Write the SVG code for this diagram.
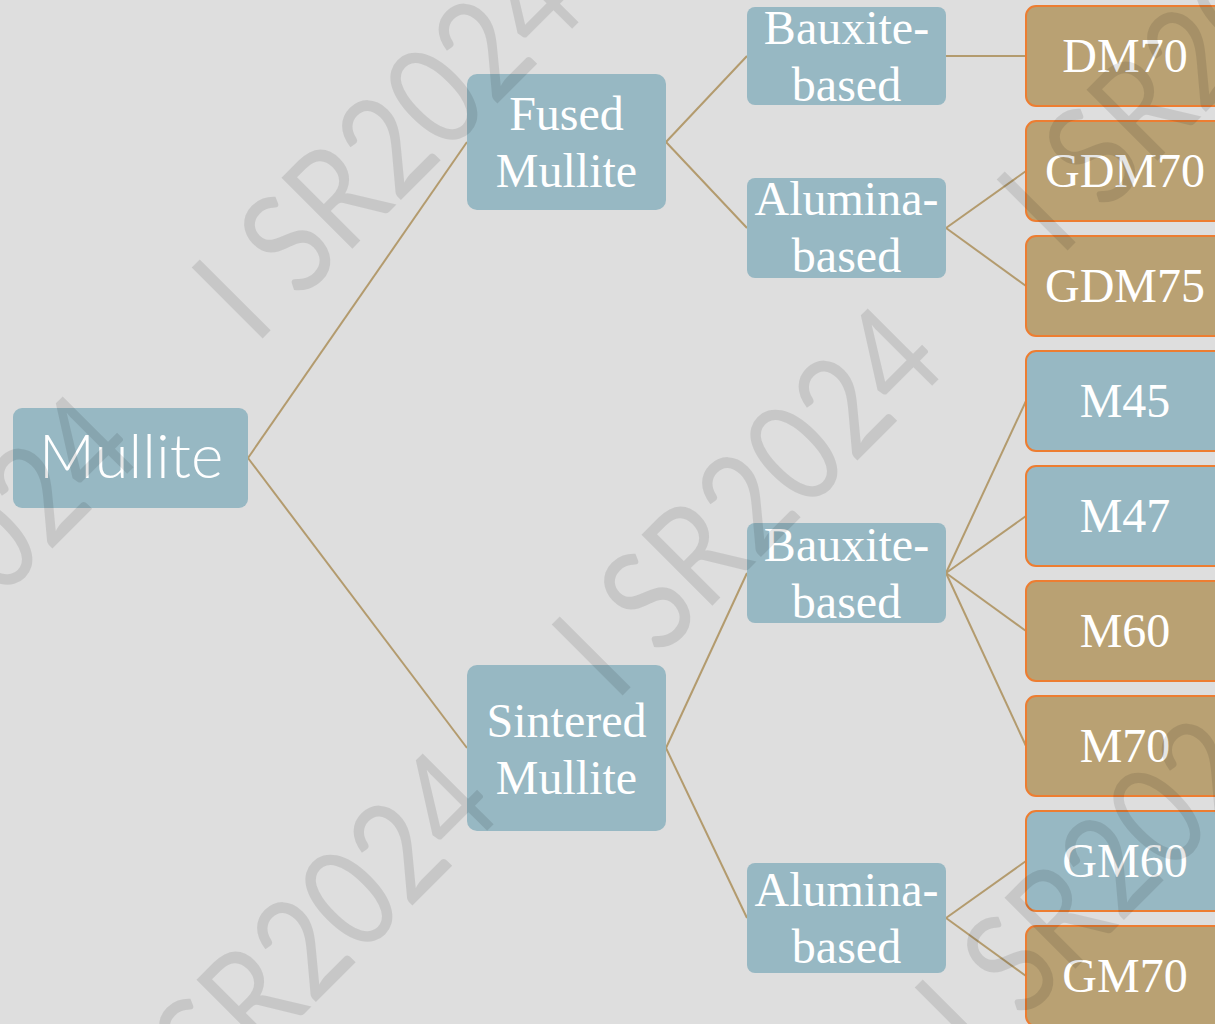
<svg xmlns="http://www.w3.org/2000/svg" xmlns:xlink="http://www.w3.org/1999/xlink" width="1215" height="1024" viewBox="0 0 1215 1024">
  <style>
    .blue { fill: #97b8c3; }
    .tan { fill: #b9a173; }
    .leaf { stroke: #ed7d31; stroke-width: 2; }
    .label { fill: #ffffff; font-family: "Liberation Serif", "Times New Roman", serif; font-size: 48px; text-anchor: middle; }
    .leaf-label { fill: #ffffff; font-family: "Liberation Serif", "Times New Roman", serif; font-size: 48px; text-anchor: middle; }
    .root-label { fill: #ffffff; font-family: Lato, "Open Sans", sans-serif; font-weight: 300; font-size: 62px; text-anchor: middle; }
    .conn line { stroke: #b39b6e; stroke-width: 2; fill: none; }
    .wm { fill: #000000; fill-opacity: 0.1; font-family: Lato, "Open Sans", sans-serif; font-size: 140px; }
  </style>
  <defs>
    <text id="wm" class="wm" textLength="474" lengthAdjust="spacingAndGlyphs">I SR2024</text>
  </defs>

  <rect x="0" y="0" width="1215" height="1024" fill="#dedede"/>

  <!-- connectors -->
  <g id="connectors" class="conn">
    <line x1="248" y1="458" x2="467" y2="142"/>
    <line x1="248" y1="458" x2="467" y2="748"/>
    <line x1="666" y1="142" x2="747" y2="56"/>
    <line x1="666" y1="142" x2="747" y2="228"/>
    <line x1="946" y1="56" x2="1026" y2="56"/>
    <line x1="946" y1="228" x2="1026" y2="171"/>
    <line x1="946" y1="228" x2="1026" y2="286"/>
    <line x1="666" y1="748" x2="747" y2="573"/>
    <line x1="666" y1="748" x2="747" y2="918"/>
    <line x1="946" y1="573" x2="1026" y2="401"/>
    <line x1="946" y1="573" x2="1026" y2="516"/>
    <line x1="946" y1="573" x2="1026" y2="631"/>
    <line x1="946" y1="573" x2="1026" y2="746"/>
    <line x1="946" y1="918" x2="1026" y2="861"/>
    <line x1="946" y1="918" x2="1026" y2="976"/>
  </g>

  <!-- root -->
  <g id="mullite">
    <rect class="blue" x="13" y="408" width="235" height="100" rx="9"/>
    <text class="root-label" x="131" y="478">Mullite</text>
  </g>

  <!-- second level -->
  <g id="fused-mullite">
    <rect class="blue" x="467" y="74" width="199" height="136" rx="10"/>
    <text class="label" x="566.5" y="130">Fused</text>
    <text class="label" x="566.5" y="187">Mullite</text>
  </g>
  <g id="sintered-mullite">
    <rect class="blue" x="467" y="665" width="199" height="166" rx="10"/>
    <text class="label" x="566.5" y="737">Sintered</text>
    <text class="label" x="566.5" y="794">Mullite</text>
  </g>

  <!-- third level -->
  <g id="fused-bauxite">
    <rect class="blue" x="747" y="7" width="199" height="98" rx="8"/>
    <text class="label" x="846.5" y="44">Bauxite-</text>
    <text class="label" x="846.5" y="101">based</text>
  </g>
  <g id="fused-alumina">
    <rect class="blue" x="747" y="178" width="199" height="100" rx="8"/>
    <text class="label" x="846.5" y="215">Alumina-</text>
    <text class="label" x="846.5" y="272">based</text>
  </g>
  <g id="sintered-bauxite">
    <rect class="blue" x="747" y="523" width="199" height="100" rx="8"/>
    <text class="label" x="846.5" y="561">Bauxite-</text>
    <text class="label" x="846.5" y="618">based</text>
  </g>
  <g id="sintered-alumina">
    <rect class="blue" x="747" y="863" width="199" height="110" rx="8"/>
    <text class="label" x="846.5" y="906">Alumina-</text>
    <text class="label" x="846.5" y="963">based</text>
  </g>

  <!-- grades -->
  <g id="dm70">
    <rect class="tan leaf" x="1026" y="6" width="198" height="100" rx="10"/>
    <text class="leaf-label" x="1125" y="72">DM70</text>
  </g>
  <g id="gdm70">
    <rect class="tan leaf" x="1026" y="121" width="198" height="100" rx="10"/>
    <text class="leaf-label" x="1125" y="187">GDM70</text>
  </g>
  <g id="gdm75">
    <rect class="tan leaf" x="1026" y="236" width="198" height="100" rx="10"/>
    <text class="leaf-label" x="1125" y="302">GDM75</text>
  </g>
  <g id="m45">
    <rect class="blue leaf" x="1026" y="351" width="198" height="100" rx="10"/>
    <text class="leaf-label" x="1125" y="417">M45</text>
  </g>
  <g id="m47">
    <rect class="blue leaf" x="1026" y="466" width="198" height="100" rx="10"/>
    <text class="leaf-label" x="1125" y="532">M47</text>
  </g>
  <g id="m60">
    <rect class="tan leaf" x="1026" y="581" width="198" height="100" rx="10"/>
    <text class="leaf-label" x="1125" y="647">M60</text>
  </g>
  <g id="m70">
    <rect class="tan leaf" x="1026" y="696" width="198" height="100" rx="10"/>
    <text class="leaf-label" x="1125" y="762">M70</text>
  </g>
  <g id="gm60">
    <rect class="blue leaf" x="1026" y="811" width="198" height="100" rx="10"/>
    <text class="leaf-label" x="1125" y="877">GM60</text>
  </g>
  <g id="gm70">
    <rect class="tan leaf" x="1026" y="926" width="198" height="100" rx="10"/>
    <text class="leaf-label" x="1125" y="992">GM70</text>
  </g>

  <!-- watermark overlay -->
  <g id="watermark">
    <use xlink:href="#wm" transform="translate(255,346) rotate(-45)"/>
    <use xlink:href="#wm" transform="translate(-190,791) rotate(-45)"/>
    <use xlink:href="#wm" transform="translate(615,703) rotate(-45)"/>
    <use xlink:href="#wm" transform="translate(1060,258) rotate(-45)"/>
    <use xlink:href="#wm" transform="translate(170,1148) rotate(-45)"/>
    <use xlink:href="#wm" transform="translate(978,1066) rotate(-45)"/>
  </g>
</svg>
